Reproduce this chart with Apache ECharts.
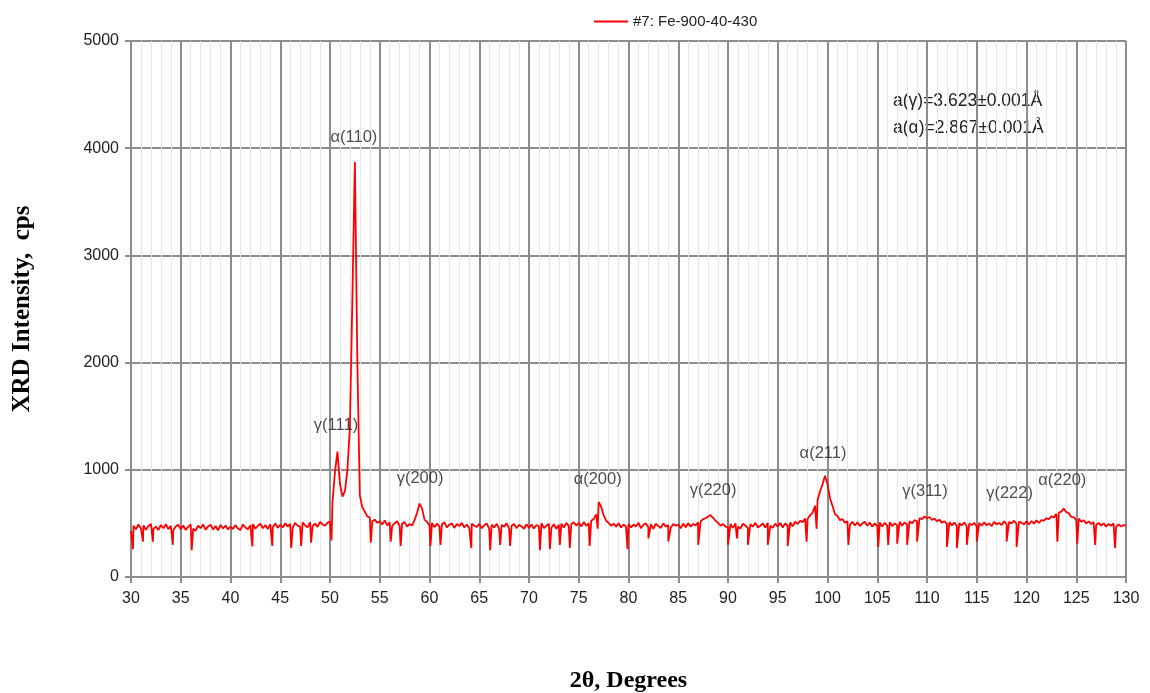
<!DOCTYPE html>
<html>
<head>
<meta charset="utf-8">
<title>XRD #7</title>
<script src="https://cdn.jsdelivr.net/npm/echarts@6/dist/echarts.min.js"></script>
<style>
  html, body { margin: 0; padding: 0; background: #fff; }
  #chart { width: 1150px; height: 693px; }
</style>
</head>
<body>
<div id="chart"></div>
<script>
// scan grid: 30..130 deg, 0.25 deg steps
var scanStart = 30;
var scanStep = 0.25;
var intensity = [
  430, 478, 445, 490, 452, 482, 440, 475, 495, 448, 470, 438, 485, 455, 492, 446, 478, 436, 472, 488,
  445, 480, 438, 468, 492, 450, 432, 478, 455, 490, 440, 472, 488, 442, 475, 436, 485, 452, 480, 444,
  470, 448, 486, 452, 438, 490, 462, 445, 482, 495, 450, 478, 498, 455, 485, 448, 492, 465, 500, 458,
  488, 462, 502, 470, 495, 458, 505, 478, 470, 510, 482, 462, 512, 475, 498, 468, 515, 490, 478, 505,
  520, 700, 980, 1170, 870, 750, 800, 1000, 1400, 2600, 3870, 2000, 760, 650, 610, 565, 555, 520, 535, 505,
  520, 490, 528, 482, 510, 478, 502, 520, 475, 498, 512, 470, 495, 480, 530, 600, 685, 640, 535, 515,
  480, 505, 465, 498, 470, 492, 510, 462, 488, 500, 458, 495, 475, 505, 462, 490, 455, 498, 478, 466,
  495, 455, 482, 500, 450, 488, 462, 498, 448, 485, 470, 502, 452, 478, 495, 456, 488, 472, 450, 492,
  458, 490, 452, 485, 470, 502, 455, 478, 496, 460, 492, 450, 488, 498, 462, 505, 475, 492, 510, 480,
  505, 470, 512, 478, 500, 525, 540, 585, 700, 655, 575, 525, 505, 478, 498, 470, 502, 462, 490, 470,
  495, 462, 490, 470, 505, 455, 488, 500, 462, 492, 450, 498, 475, 458, 500, 468, 485, 460, 495, 478,
  490, 455, 498, 465, 502, 470, 495, 480, 510, 520, 540, 548, 565, 578, 552, 525, 505, 478, 495, 470,
  462, 495, 458, 500, 470, 452, 498, 480, 455, 492, 470, 505, 462, 478, 500, 460, 505, 478, 458, 498,
  470, 505, 462, 500, 478, 510, 472, 515, 495, 525, 512, 545, 540, 575, 600, 665, 715, 800, 865, 945,
  865, 735, 665, 585, 570, 530, 540, 505, 520, 485, 515, 480, 510, 475, 500, 515, 478, 508, 470, 500,
  478, 510, 470, 505, 480, 512, 475, 500, 482, 515, 478, 510, 488, 520, 500, 530, 520, 550, 540, 565,
  548, 560, 532, 545, 520, 535, 505, 520, 495, 512, 482, 508, 475, 502, 480, 510, 470, 498, 485, 505,
  472, 505, 478, 510, 482, 500, 475, 515, 490, 505, 485, 520, 492, 515, 500, 525, 495, 518, 505, 490,
  520, 490, 522, 498, 528, 505, 530, 525, 548, 540, 565, 555, 590, 600, 610, 640, 605, 595, 560, 558,
  530, 545, 515, 530, 500, 518, 495, 510, 485, 505, 480, 500, 470, 495, 478, 500, 465, 490, 470, 485,
  480
];
// narrow downward dropouts [2theta, counts]
var dropouts = [
  [30.2, 260], [31.2, 330], [32.2, 330], [34.2, 300], [36.1, 250], [42.2, 285], [44.2, 290],
  [46.1, 270], [47.1, 290], [48.1, 320], [50.15, 340], [54.1, 320], [56.1, 330], [57.1, 290],
  [60.1, 290], [61.1, 300], [64.2, 270], [66.1, 250], [67.1, 300], [68.1, 290], [71.1, 250],
  [72.1, 260], [73.1, 300], [74.1, 270], [76.1, 290], [76.9, 450], [79.9, 260], [82.0, 360],
  [84.0, 330], [87.0, 300], [90.0, 300], [90.9, 360], [92.0, 300], [94.0, 300], [96.0, 290],
  [97.9, 330], [98.9, 450], [102.1, 300], [105.1, 280], [106.1, 300], [107.0, 310], [108.0, 300],
  [109.0, 330], [112.0, 280], [113.0, 270], [114.0, 300], [115.0, 330], [118.0, 330], [119.0, 280],
  [123.1, 330], [125.1, 310], [126.9, 300], [128.9, 270]
];
var peakNames = ['γ(111)', 'α(110)', 'γ(200)', 'α(200)', 'γ(220)', 'α(211)', 'γ(311)', 'γ(222)', 'α(220)'];
var peakTheta = [50.6, 52.4, 59.05, 76.9, 88.5, 99.55, 109.8, 118.3, 123.6];
var peakLabelY = [1418, 4104, 923, 914, 811, 1157, 802, 784, 896];
var latticeText = ['a(γ)=3.623±0.001Å', 'a(α)=2.867±0.001Å'];

var points = intensity.map(function (v, i) { return [scanStart + i * scanStep, v]; })
  .concat(dropouts)
  .sort(function (a, b) { return a[0] - b[0]; });

var labelData = peakNames.map(function (n, i) {
  return { name: n, value: [peakTheta[i], peakLabelY[i]] };
});

var chart = echarts.init(document.getElementById('chart'));
var gridColor = '#8c8c8c';
var option = {
  animation: false,
  backgroundColor: '#fff',
  grid: { left: 131, right: 24, top: 41, bottom: 116, outerBoundsMode: 'none' },
  legend: {
    left: 589, top: 9,
    itemWidth: 34, itemHeight: 2, itemGap: 4,
    icon: 'rect',
    textStyle: { fontFamily: 'Liberation Sans', fontSize: 15, color: '#222' },
    data: ['#7: Fe-900-40-430']
  },
  xAxis: {
    type: 'value', min: 30, max: 130, interval: 5,
    name: '2θ, Degrees', nameLocation: 'middle', nameGap: 92,
    nameTextStyle: { fontFamily: 'Liberation Serif', fontSize: 24, fontWeight: 'bold', color: '#000' },
    axisLine: { lineStyle: { color: gridColor, width: 2 } },
    axisTick: { show: true, length: 6, lineStyle: { color: gridColor, width: 2 } },
    axisLabel: { margin: 14, fontFamily: 'Liberation Sans', fontSize: 16, color: '#222' },
    splitLine: { show: true, lineStyle: { color: gridColor, width: 2 } },
    minorTick: { show: false, splitNumber: 5 },
    minorSplitLine: { show: true, lineStyle: { color: '#e6e6e6', width: 1 } }
  },
  yAxis: {
    type: 'value', min: 0, max: 5000, interval: 1000,
    name: 'XRD Intensity,  cps', nameLocation: 'middle', nameGap: 96,
    nameTextStyle: { fontFamily: 'Liberation Serif', fontSize: 25, fontWeight: 'bold', color: '#000' },
    axisLine: { show: true, lineStyle: { color: gridColor, width: 2 } },
    axisTick: { show: true, length: 6, lineStyle: { color: gridColor, width: 2 } },
    axisLabel: {
      margin: 12, fontFamily: 'Liberation Sans', fontSize: 16, color: '#222',
      formatter: function (v) { return String(v); }
    },
    splitLine: { show: true, lineStyle: { color: gridColor, width: 2 } }
  },
  graphic: [{
    type: 'text', left: 893, top: 88,
    style: {
      text: latticeText.join('\n'),
      font: '17.5px "Liberation Sans"', lineHeight: 27, fill: '#222'
    }
  }],
  series: [
    {
      name: '#7: Fe-900-40-430',
      type: 'line',
      data: points,
      showSymbol: false,
      symbol: 'none',
      lineStyle: { color: '#ff0000', width: 1.8 },
      itemStyle: { color: '#ff0000' },
      z: 3
    },
    {
      name: 'labels',
      type: 'scatter',
      data: labelData,
      symbolSize: 0,
      silent: true,
      label: {
        show: true, position: 'inside',
        formatter: function (p) { return p.name; },
        fontFamily: 'Liberation Sans', fontSize: 16.5, color: '#222'
      },
      z: 4
    }
  ]
};
chart.setOption(option);
</script>
</body>
</html>
